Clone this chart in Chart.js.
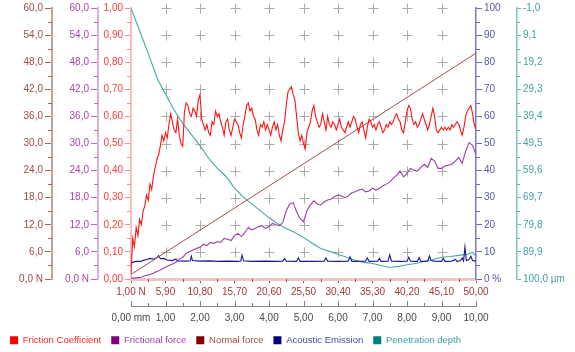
<!DOCTYPE html>
<html>
<head>
<meta charset="utf-8">
<script src="https://cdn.jsdelivr.net/npm/chart.js@4.4.1/dist/chart.umd.min.js"></script>
<style>
  html, body { margin: 0; padding: 0; background: #ffffff; }
  canvas { display: block; }
</style>
</head>
<body>
<canvas id="scratch" width="575" height="352"></canvas>
<script>
// Scratch test record: friction coefficient, frictional force, normal force,
// acoustic emission and penetration depth along the scratch length (mm).

const frictionStepMm = 0.05;
const frictionCoefficient = [
  0.02,0.15,0.12,0.19,0.16,0.22,0.20,0.25,0.27,0.31,0.29,0.35,0.33,0.38,0.41,0.44,0.46,0.49,0.53,0.51,
  0.54,0.52,0.57,0.61,0.58,0.55,0.54,0.59,0.53,0.50,0.49,0.62,0.65,0.64,0.61,0.60,0.63,0.62,0.60,0.66,
  0.68,0.59,0.57,0.55,0.57,0.54,0.53,0.58,0.57,0.62,0.60,0.61,0.58,0.56,0.53,0.58,0.59,0.55,0.53,0.56,
  0.59,0.58,0.57,0.54,0.52,0.57,0.60,0.64,0.65,0.62,0.63,0.60,0.59,0.55,0.53,0.57,0.56,0.58,0.55,0.57,
  0.55,0.53,0.56,0.58,0.55,0.57,0.53,0.51,0.55,0.58,0.64,0.69,0.70,0.71,0.68,0.66,0.60,0.54,0.51,0.53,
  0.50,0.48,0.54,0.56,0.58,0.62,0.64,0.60,0.58,0.56,0.57,0.61,0.58,0.55,0.60,0.57,0.56,0.58,0.57,0.55,
  0.57,0.59,0.56,0.55,0.54,0.56,0.58,0.56,0.58,0.60,0.59,0.56,0.54,0.57,0.58,0.55,0.52,0.56,0.59,0.58,
  0.56,0.57,0.55,0.57,0.58,0.56,0.54,0.55,0.57,0.56,0.58,0.57,0.58,0.60,0.61,0.59,0.58,0.55,0.54,0.58,
  0.62,0.64,0.63,0.59,0.57,0.58,0.56,0.57,0.59,0.61,0.59,0.57,0.55,0.57,0.60,0.63,0.60,0.55,0.54,0.55,
  0.56,0.55,0.56,0.55,0.56,0.55,0.57,0.56,0.57,0.58,0.57,0.55,0.53,0.56,0.60,0.62,0.63,0.64,0.61,0.57,
  0.55
];

const forceStepMm = 0.1;
const frictionalForceN = [
  0.2,0.2,0.3,0.4,0.7,0.9,1.1,1.5,1.8,2.2,
  2.6,3.0,3.3,3.7,4.4,4.8,5.7,6.1,6.4,6.8,
  7.0,7.7,7.4,8.1,7.9,8.3,8.1,9.0,8.8,8.5,
  9.6,10.1,9.4,10.3,11.4,10.9,11.2,11.6,11.8,11.2,
  11.6,12.3,12.0,11.8,12.5,15.1,16.6,16.9,14.9,13.4,
  12.7,15.1,16.4,17.3,16.6,16.4,17.1,17.5,17.7,18.2,
  18.6,18.4,18.0,18.4,19.1,19.3,19.7,19.9,19.3,19.5,
  20.1,19.7,20.1,20.6,21.0,21.5,22.3,23.0,23.9,22.6,
  23.4,24.5,24.1,23.9,24.7,25.4,24.7,26.7,26.1,24.5,
  24.5,25.0,25.2,25.4,26.1,26.9,25.6,28.3,30.2,29.6,
  27.6
];

// Normal force ramps linearly over the scratch (start and end load, N)
const normalForceN = [1.0, 50.0];

const emissionMm = [0.00,0.10,0.30,0.45,0.55,0.65,0.75,0.80,0.85,0.95,1.05,1.20,1.30,1.35,1.60,1.72,1.75,1.78,2.00,2.30,
  2.50,2.80,3.10,3.18,3.22,3.26,3.50,3.90,4.20,4.40,4.45,4.50,4.80,4.85,4.90,5.30,5.60,5.65,5.70,6.00,
  6.30,6.35,6.40,6.80,6.85,6.90,7.15,7.20,7.25,7.45,7.50,7.55,7.80,8.00,8.05,8.10,8.30,8.35,8.40,8.60,
  8.65,8.70,8.80,9.00,9.05,9.10,9.30,9.40,9.45,9.55,9.60,9.64,9.68,9.72,9.80,9.85,9.90,10.00];
const emissionPct = [5.8,6.4,6.6,7.2,7.6,7.3,7.8,8.6,7.5,7.6,7.0,6.8,7.4,6.7,6.6,6.7,8.4,6.8,6.6,6.7,
  6.5,6.6,6.5,6.6,8.8,6.7,6.5,6.6,6.5,6.6,7.6,6.6,6.5,7.8,6.5,6.5,6.6,7.8,6.6,6.5,
  6.6,8.2,6.5,6.6,7.8,6.5,6.6,7.6,6.5,6.6,8.9,6.6,6.5,6.6,8.0,6.6,6.5,7.9,6.5,6.6,
  8.5,6.8,6.6,6.5,7.6,6.5,6.6,7.2,6.5,6.8,7.8,6.7,11.8,6.8,7.2,8.4,6.8,6.6];

const depthMm = [0,0.25,0.5,0.75,0.8,1.0,1.25,1.5,1.75,2.0,2.25,2.5,2.75,3.0,3.25,3.5,3.75,4.0,4.25,4.5,
  4.75,5.0,5.25,5.5,5.75,6.0,6.25,6.5,6.75,7.0,7.25,7.5,7.75,8.0,8.25,8.5,8.75,9.0,9.25,9.5,9.75,9.9,10.0];
const depthUm = [-1.0,7.5,16.0,24.8,26.3,31.1,37.0,42.1,46.2,50.3,55.0,58.7,61.7,66.1,69.4,72.0,74.6,77.2,79.4,81.2,
  82.7,84.5,86.7,88.6,89.7,90.8,91.9,93.0,93.8,94.2,95.0,95.7,95.3,94.7,94.2,93.4,92.7,91.9,91.6,91.2,90.8,90.1,91.6];

// Axis tick values
const distanceTicks = [0,1,2,3,4,5,6,7,8,9,10];
const loadTicks = [1.00,5.90,10.80,15.70,20.60,25.50,30.40,35.30,40.20,45.10,50.00];
const forceTicks = [0,6,12,18,24,30,36,42,48,54,60];
const muTicks = [0,0.1,0.2,0.3,0.4,0.5,0.6,0.7,0.8,0.9,1.0];
const emissionTicks = [0,10,20,30,40,50,60,70,80,90,100];
const depthTicks = [-1.0,9.1,19.2,29.3,39.4,49.5,59.6,69.7,79.8,89.9,100.0];

const seriesNames = ['Friction Coefficient','Frictional force','Normal force','Acoustic Emission','Penetration depth'];
const legendBoxColors = ['#ff0000','#800080','#800000','#000080','#008080'];
const legendTextColors = ['#ff2a2a','#a23ea8','#a04646','#4848a8','#3aa3a0'];

const FONT = "'Liberation Sans', Arial, Helvetica, sans-serif";
const fmt = (v, d) => Number(v).toFixed(d).replace('.', ',');

const frictionPoints = frictionCoefficient.map((v, i) => ({x: +(i * frictionStepMm).toFixed(2), y: v}));
const forcePoints = frictionalForceN.map((v, i) => ({x: +(i * forceStepMm).toFixed(2), y: v}));
const normalPoints = normalForceN.map(v => ({x: v, y: v}));
const emissionPoints = emissionMm.map((x, i) => ({x, y: emissionPct[i]}));
const depthPoints = depthMm.map((x, i) => ({x, y: depthUm[i]}));

const setTicks = list => scale => { scale.ticks = list.map(v => ({value: v})); };

// Per-axis styling for the short intermediate ticks
const axisStyle = {
  yN:  {side: 'left',  color: '#a86262', len: 4},
  yF:  {side: 'left',  color: '#b86cc0', len: 4},
  yMu: {side: 'left',  color: '#ff8a8a', len: 4},
  yAE: {side: 'right', color: '#6a6ab8', len: 4},
  yD:  {side: 'right', color: '#5fb3b3', len: 3},
  xN:  {side: 'bottom', color: '#a05050', len: 2},
  xMM: {side: 'up', color: '#808080', len: 3}
};

const minorTickPlugin = {
  id: 'minorTicks',
  afterDraw(chart) {
    const ctx = chart.ctx;
    ctx.save();
    ctx.lineWidth = 1;
    Object.keys(axisStyle).forEach(id => {
      const s = chart.scales[id];
      const st = axisStyle[id];
      const vals = s.ticks.map(t => t.value);
      ctx.strokeStyle = st.color;
      ctx.beginPath();
      for (let i = 0; i < vals.length - 1; i++) {
        const mid = (vals[i] + vals[i + 1]) / 2;
        const p = Math.round(s.getPixelForValue(mid)) + 0.5;
        if (st.side === 'left') { ctx.moveTo(s.right - st.len, p); ctx.lineTo(s.right, p); }
        else if (st.side === 'right') { ctx.moveTo(s.left, p); ctx.lineTo(s.left + st.len, p); }
        else if (st.side === 'bottom') { ctx.moveTo(p, s.top); ctx.lineTo(p, s.top + st.len + 1); }
        else { ctx.moveTo(p, s.top + 1); ctx.lineTo(p, s.top - st.len); }
      }
      if (st.side === 'up') {
        vals.forEach(v => {
          const p = Math.round(s.getPixelForValue(v)) + 0.5;
          ctx.moveTo(p, s.top + 1); ctx.lineTo(p, s.top - 5);
        });
      }
      ctx.stroke();
    });
    ctx.restore();
  }
};

// Cross markers at the grid intersections of the plot area
const crossGridPlugin = {
  id: 'crossGrid',
  beforeDatasetsDraw(chart) {
    const ctx = chart.ctx;
    const xs = chart.scales.xMM, ys = chart.scales.yAE;
    ctx.save();
    ctx.strokeStyle = '#ababab';
    ctx.lineWidth = 1;
    ctx.beginPath();
    for (let mm = 1; mm <= 9; mm++) {
      const x = Math.round(xs.getPixelForValue(mm)) + 0.5;
      for (let pct = 10; pct <= 100; pct += 10) {
        const y = Math.round(ys.getPixelForValue(pct)) + 0.5;
        ctx.moveTo(x - 5, y); ctx.lineTo(x + 5, y);
        ctx.moveTo(x, y - 5); ctx.lineTo(x, y + 5);
      }
    }
    ctx.stroke();
    ctx.restore();
  }
};

const tickFont = {family: FONT, size: 10};

function leftAxis(list, weight, width, labelColor, tickColor, borderColor, decimals, unit, tickLength, max) {
  return {
    type: 'linear', position: 'left', weight, min: list[0], max,
    afterBuildTicks: setTicks(list),
    afterFit: s => { s.width = width; },
    ticks: {color: labelColor, font: tickFont, padding: 2, autoSkip: false,
      callback: v => fmt(v, decimals) + (v === list[0] && unit ? unit : '')},
    grid: {display: true, drawOnChartArea: false, drawTicks: true, tickLength, tickColor, tickWidth: 1},
    border: {display: true, color: borderColor, width: 2}
  };
}

new Chart(document.getElementById('scratch'), {
  type: 'line',
  data: {
    datasets: [
      {label: seriesNames[0], data: frictionPoints, xAxisID: 'xMM', yAxisID: 'yMu',
       borderColor: '#ff1414', borderWidth: 1.1},
      {label: seriesNames[1], data: forcePoints, xAxisID: 'xMM', yAxisID: 'yF',
       borderColor: '#9d3ea7', borderWidth: 1.1},
      {label: seriesNames[2], data: normalPoints, xAxisID: 'xN', yAxisID: 'yN',
       borderColor: '#a5504c', borderWidth: 1},
      {label: seriesNames[3], data: emissionPoints, xAxisID: 'xMM', yAxisID: 'yAE',
       borderColor: '#18188c', borderWidth: 1.1},
      {label: seriesNames[4], data: depthPoints, xAxisID: 'xMM', yAxisID: 'yD',
       borderColor: '#45aaa6', borderWidth: 1.1}
    ]
  },
  options: {
    responsive: false,
    devicePixelRatio: 1,
    animation: false,
    parsing: true,
    elements: {point: {radius: 0}, line: {tension: 0, fill: false}},
    layout: {padding: {top: 5, left: 0, right: 0, bottom: -3}},
    scales: {
      xMM: {
        type: 'linear', position: 'bottom', weight: 2, min: 0, max: 10,
        afterBuildTicks: setTicks(distanceTicks),
        afterFit: s => { s.height = 19.5; },
        ticks: {color: '#484848', font: tickFont, padding: 6, autoSkip: false, maxRotation: 0,
          callback: (v) => fmt(v, 2) + (v === 0 ? ' mm' : '')},
        grid: {display: true, drawOnChartArea: false, drawTicks: false},
        border: {display: true, color: '#8a8a8a', width: 1}
      },
      xN: {
        type: 'linear', position: 'bottom', weight: 1, min: 1, max: 50,
        afterBuildTicks: setTicks(loadTicks),
        afterFit: s => { s.height = 27; },
        ticks: {color: '#a53838', font: tickFont, padding: 3, autoSkip: false, maxRotation: 0,
          callback: (v) => fmt(v, 2) + (v === 1 ? ' N' : '')},
        grid: {display: true, drawOnChartArea: false, drawTicks: true, tickLength: 4, tickColor: '#a05050'},
        border: {display: true, color: '#ebc6c6', width: 3}
      },
      yN: leftAxis(forceTicks, 3, 52, '#a24a4a', '#a86262', '#cc9f9f', 1, ' N', 7, 60),
      yF: leftAxis(forceTicks, 2, 46, '#a846ae', '#b86cc0', '#dbb0e0', 1, ' N', 7, 60),
      yMu: leftAxis(muTicks, 1, 33, '#ff3a3a', '#ff8a8a', '#ffbdbd', 2, '', 6, 1),
      yAE: {
        type: 'linear', position: 'right', weight: 1, min: 0, max: 100,
        afterBuildTicks: setTicks(emissionTicks),
        afterFit: s => { s.width = 41; },
        ticks: {color: '#5656a6', font: tickFont, padding: 2, autoSkip: false,
          callback: v => String(v) + (v === 0 ? ' %' : '')},
        grid: {display: true, drawOnChartArea: false, drawTicks: true, tickLength: 6, tickColor: '#6a6ab8'},
        border: {display: true, color: '#7a7ac6', width: 1.5}
      },
      yD: {
        type: 'linear', position: 'right', weight: 2, min: -1, max: 100, reverse: true,
        afterBuildTicks: setTicks(depthTicks),
        afterFit: s => { s.width = 58; },
        ticks: {color: '#3ea3a0', font: tickFont, padding: 2, autoSkip: false,
          callback: v => fmt(v, 1) + (v === 100 ? ' µm' : '')},
        grid: {display: true, drawOnChartArea: false, drawTicks: true, tickLength: 4, tickColor: '#5fb3b3'},
        border: {display: true, color: '#7cc4c4', width: 1.5}
      }
    },
    plugins: {
      tooltip: {enabled: false},
      legend: {
        display: true, position: 'bottom', align: 'start',
        labels: {
          boxWidth: 8, boxHeight: 8, padding: 10,
          font: {family: FONT, size: 9.5},
          generateLabels: () => seriesNames.map((t, i) => ({
            text: t, fillStyle: legendBoxColors[i], strokeStyle: legendBoxColors[i],
            lineWidth: 0, fontColor: legendTextColors[i], hidden: false, datasetIndex: i
          }))
        }
      }
    }
  },
  plugins: [crossGridPlugin, minorTickPlugin]
});
</script>
</body>
</html>
